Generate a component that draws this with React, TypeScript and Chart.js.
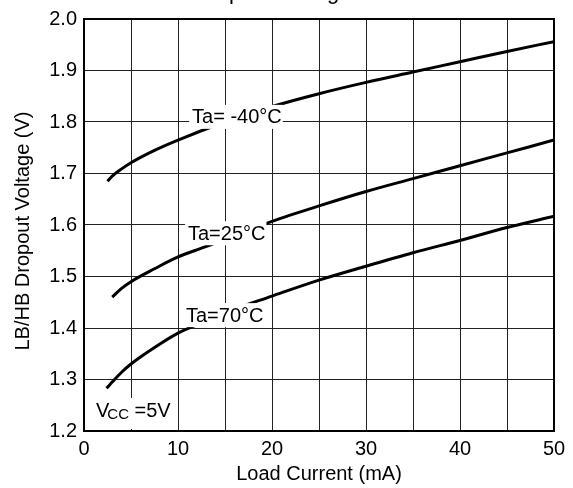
import React, { useEffect, useRef } from "react";
import { Chart, registerables } from "chart.js";

Chart.register(...registerables);

const loadCurrentM40 = [2.5, 3, 4, 5, 7.5, 10, 15, 20, 25, 30, 35, 40, 45, 50];
const voltageM40 = [1.685, 1.695, 1.709, 1.721, 1.745, 1.765, 1.8, 1.83, 1.855, 1.877, 1.897, 1.917, 1.937, 1.956];

const loadCurrent25 = [3, 4, 5, 7.5, 10, 12.5, 15, 20, 25, 30, 35, 40, 45, 50];
const voltage25 = [1.46, 1.477, 1.49, 1.515, 1.538, 1.555, 1.572, 1.607, 1.637, 1.665, 1.69, 1.715, 1.74, 1.765];

const loadCurrent70 = [2.4, 3, 4, 5, 7.5, 10, 12.5, 15, 20, 25, 30, 35, 40, 45, 50];
const voltage70 = [1.283, 1.295, 1.314, 1.33, 1.362, 1.39, 1.41, 1.43, 1.462, 1.493, 1.52, 1.546, 1.57, 1.595, 1.617];

const seriesLabels = ["Ta= -40°C", "Ta=25°C", "Ta=70°C"];
const chartTitle = "LB/HB Dropout Voltage vs Load Current";
const xTitle = "Load Current (mA)";
const yTitle = "LB/HB Dropout Voltage (V)";

const FONT = "'Liberation Sans', Arial, Helvetica, sans-serif";
const FS = 20;

const toPoints = (xs: number[], ys: number[]) => xs.map((x, i) => ({ x, y: ys[i] }));

// annotation anchors (data coords: left x, center y)
const labelAnchors = [
  { x: 11.5, y: 1.81 },
  { x: 11.06, y: 1.584 },
  { x: 10.85, y: 1.425 },
];

const overlayPlugin = {
  id: "overlay",
  afterDatasetsDraw(chart: any) {
    const ctx = chart.ctx as CanvasRenderingContext2D;
    const { left, right, top, bottom } = chart.chartArea;
    const xs = chart.scales.x;
    const ys = chart.scales.y;
    ctx.save();
    // frame
    ctx.strokeStyle = "#000";
    ctx.lineWidth = 2;
    ctx.strokeRect(left, top, right - left, bottom - top);

    // curve labels
    ctx.font = `${FS}px ${FONT}`;
    ctx.textBaseline = "middle";
    ctx.textAlign = "left";
    seriesLabels.forEach((t, i) => {
      const px = xs.getPixelForValue(labelAnchors[i].x);
      const py = ys.getPixelForValue(labelAnchors[i].y);
      const w = ctx.measureText(t).width;
      ctx.fillStyle = "#fff";
      ctx.fillRect(px - 3, py - 12, w + 4, 24);
      ctx.fillStyle = "#000";
      ctx.fillText(t, px, py + 1);
    });

    // Vcc label
    const vx = left + 12;
    const vy = bottom - 14;
    ctx.fillStyle = "#fff";
    ctx.fillRect(left + 1, vy - 19, 89, 31);
    ctx.fillStyle = "#000";
    ctx.textBaseline = "alphabetic";
    ctx.font = `${FS}px ${FONT}`;
    ctx.fillText("V", vx, vy);
    const w = ctx.measureText("V").width - 2;
    ctx.font = `15px ${FONT}`;
    ctx.fillText("CC", vx + w, vy + 2);
    const w2 = ctx.measureText("CC").width;
    ctx.font = `${FS}px ${FONT}`;
    ctx.fillText(" =5V", vx + w + w2, vy);

    // axis titles
    ctx.textAlign = "center";
    ctx.textBaseline = "middle";
    ctx.fillText(xTitle, (left + right) / 2, 494);
    ctx.save();
    ctx.translate(23, 251);
    ctx.rotate(-Math.PI / 2);
    ctx.fillText(yTitle, 0, 0);
    ctx.restore();

    // title (clipped at top of page)
    ctx.font = `22px ${FONT}`;
    ctx.textAlign = "center";
    ctx.textBaseline = "alphabetic";
    ctx.fillText(chartTitle, (left + right) / 2, top - 20.5);
    ctx.restore();
  },
};

export default function App() {
  const ref = useRef<HTMLCanvasElement | null>(null);
  useEffect(() => {
    if (!ref.current) return;
    const line = (xs: number[], ys: number[]) => ({
      data: toPoints(xs, ys),
      borderColor: "#000",
      borderWidth: 3,
      pointRadius: 0,
      fill: false,
      cubicInterpolationMode: "monotone" as const,
    });
    const chart = new Chart(ref.current, {
      type: "line",
      data: {
        datasets: [
          { label: seriesLabels[0], ...line(loadCurrentM40, voltageM40) },
          { label: seriesLabels[1], ...line(loadCurrent25, voltage25) },
          { label: seriesLabels[2], ...line(loadCurrent70, voltage70) },
        ],
      },
      options: {
        responsive: false,
        animation: false,
        devicePixelRatio: 1,
        layout: { padding: { left: 0, right: 19, top: 39, bottom: 0 } },
        plugins: { legend: { display: false }, tooltip: { enabled: false }, title: { display: false } },
        scales: {
          x: {
            type: "linear",
            min: 0,
            max: 50,
            afterFit: (s: any) => {
              s.height = 57;
            },
            ticks: {
              stepSize: 5,
              autoSkip: false,
              maxRotation: 0,
              padding: 6,
              color: "#000",
              font: { family: FONT, size: FS },
              callback: (v: any) => (Number(v) % 10 === 0 ? String(v) : ""),
            },
            grid: { color: "#222", lineWidth: 1, tickLength: 0, drawTicks: false },
            border: { display: true, color: "#000", width: 2 },
          },
          y: {
            type: "linear",
            min: 1.2,
            max: 2.0,
            afterFit: (s: any) => {
              s.width = 84;
            },
            ticks: {
              stepSize: 0.1,
              autoSkip: false,
              padding: 7,
              color: "#000",
              font: { family: FONT, size: FS },
              callback: (v: any) => Number(v).toFixed(1),
            },
            grid: { color: "#222", lineWidth: 1, tickLength: 0, drawTicks: false },
            border: { display: true, color: "#000", width: 2 },
          },
        },
      },
      plugins: [overlayPlugin],
    });
    return () => chart.destroy();
  }, []);
  return (
    <div style={{ position: "absolute", left: 0, top: -20, width: 573, height: 508 }}>
      <canvas ref={ref} width={573} height={508} />
    </div>
  );
}
